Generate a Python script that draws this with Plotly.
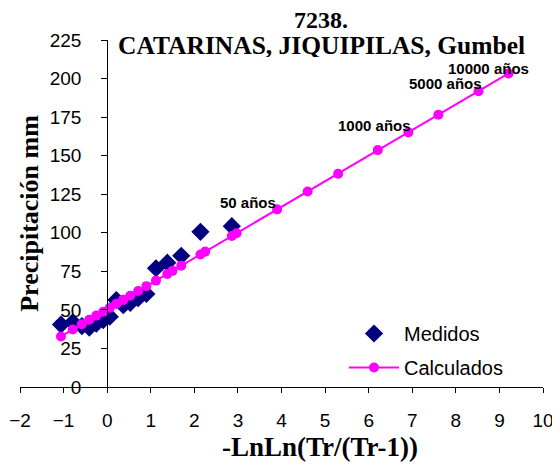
import plotly.graph_objects as go

# Measured data (reduced variate, precipitation mm)
med_x = [2.86, 2.14, 1.70, 1.38, 1.12, 0.90, 0.71, 0.53, 0.37, 0.21, 0.06, -0.09, -0.25, -0.41, -0.58, -0.79, -1.06]
med_y = [104.3, 100.6, 85.1, 80.6, 77.0, 60.3, 57.6, 54.6, 53.0, 56.4, 45.6, 43.4, 41.0, 38.5, 39.5, 42.0, 40.5]

# Calculated Gumbel values
cal_x = [-1.06, -0.79, -0.58, -0.41, -0.25, -0.09, 0.06, 0.21, 0.37, 0.37, 0.53, 0.71, 0.90, 1.12,
         1.38, 1.50, 1.70, 2.14, 2.25, 2.86, 2.97, 3.90, 4.60, 5.30, 6.21, 6.91, 7.60, 8.52, 9.21]
cal_y = [32.8, 37.3, 40.7, 43.6, 46.3, 48.8, 51.4, 53.9, 56.5, 56.5, 59.2, 62.2, 65.4, 69.0,
         73.3, 75.3, 78.7, 85.9, 87.8, 97.9, 99.7, 115.2, 126.8, 138.3, 153.6, 165.1, 176.6, 191.8, 203.3]

ann_text = ["50 años", "1000 años", "5000 años", "10000 años"]
ann_x = [3.23, 6.14, 7.76, 8.76]
ann_y = [120, 170, 197, 207]

x_ticks = list(range(-2, 11))
y_ticks = list(range(0, 226, 25))

# page body has an 8px margin; plot area spans x 20..543, y 40..387 in window pixels
W, H = 552, 462
L, T = 12, 32
PW, PH = 523, 347

def px(xw):
    return (xw - 20) / PW

def py(yw):
    return (387 - yw) / PH

fig = go.Figure()
fig.add_trace(go.Scatter(
    x=med_x, y=med_y, mode="markers", name="Medidos", legendgroup="a",
    marker=dict(symbol="diamond", size=14, color="#000080"),
))
fig.add_trace(go.Scatter(
    x=cal_x, y=cal_y, mode="lines+markers", name="Calculados", legendgroup="b",
    line=dict(color="#FF00FF", width=2),
    marker=dict(symbol="circle", size=10, color="#FF00FF"),
))

for t, ax_, ay_ in zip(ann_text, ann_x, ann_y):
    fig.add_annotation(x=ax_, y=ay_, text="<b>" + t + "</b>", showarrow=False,
                       xanchor="center", yanchor="middle", height=14, borderpad=0,
                       font=dict(family="Liberation Sans Narrow, Arial Narrow, Arial", size=15, color="black"))

serif = "Liberation Serif, Times New Roman"
fig.add_annotation(xref="paper", yref="paper", x=px(321), y=py(8),
                   xanchor="center", yanchor="top", borderpad=0, height=22,
                   text="<b>7238.</b>", showarrow=False,
                   font=dict(family=serif, size=24, color="black"))
fig.add_annotation(xref="paper", yref="paper", x=px(321), y=py(45),
                   xanchor="center", yanchor="middle", borderpad=0, height=24,
                   text="<b>CATARINAS, JIQUIPILAS, Gumbel</b>", showarrow=False,
                   font=dict(family=serif, size=25.5, color="black"))
# x-axis title (centred like the reference, right of the plot centre)
fig.add_annotation(xref="paper", yref="paper", x=px(320), y=py(447),
                   xanchor="center", yanchor="middle",
                   text="<b>-LnLn(Tr/(Tr-1))</b>", showarrow=False,
                   font=dict(family=serif, size=27, color="black"))

fig.update_layout(
    width=W, height=H,
    margin=dict(l=L, r=W - L - PW, t=T, b=H - T - PH),
    paper_bgcolor="white", plot_bgcolor="white",
    font=dict(family="Arial, Liberation Sans", size=19, color="black"),
    showlegend=True,
    legend=dict(x=px(344), y=py(314), xanchor="left", yanchor="top",
                bgcolor="rgba(0,0,0,0)", itemwidth=50,
                font=dict(size=20), tracegroupgap=5),
    xaxis=dict(range=[-2, 10], tickvals=x_ticks, showgrid=False, zeroline=False,
               automargin=False,
               showline=True, linecolor="black", linewidth=1,
               ticks="outside", ticklen=5, tickcolor="black",
               ticklabelstandoff=11),
    yaxis=dict(range=[0, 225], tickvals=y_ticks, showgrid=False, zeroline=False,
               automargin=False,
               anchor="free", position=2 / 12,
               showline=True, linecolor="black", linewidth=1,
               ticks="outside", ticklen=6, tickcolor="black",
               ticklabelstandoff=16,
               title=dict(text="<b>Precipitación mm</b>", standoff=2,
                          font=dict(family=serif, size=26))),
)

fig.write_html("out.html")
